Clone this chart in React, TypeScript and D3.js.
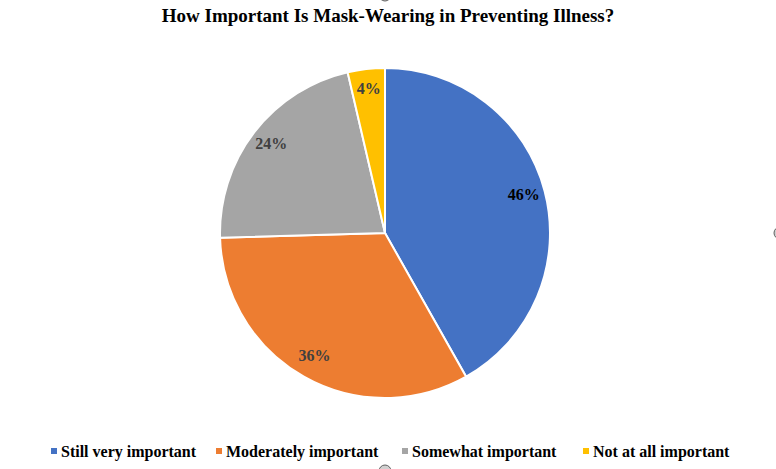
import React, { useEffect, useRef } from "react";
import * as d3 from "d3";

const categories = [
  "Still very important",
  "Moderately important",
  "Somewhat important",
  "Not at all important",
];
const values = [46, 36, 24, 4];
const labels = ["46%", "36%", "24%", "4%"];
const colors = ["#4472C4", "#ED7D31", "#A5A5A5", "#FFC000"];
const labelColors = ["#000000", "#404040", "#404040", "#404040"];

const width = 776;
const height = 469;

const App: React.FC = () => {
  const svgRef = useRef<SVGSVGElement | null>(null);

  useEffect(() => {
    if (!svgRef.current) return;
    const svg = d3.select(svgRef.current);
    svg.selectAll("*").remove();

    const font = "'Liberation Serif', 'Times New Roman', serif";
    const cx = 385;
    const cy = 233;
    const r = 165;

    // title
    svg
      .append("text")
      .attr("x", cx + 3)
      .attr("y", 22)
      .attr("text-anchor", "middle")
      .style("font-family", font)
      .style("font-weight", "bold")
      .style("font-size", "19px")
      .attr("fill", "#000")
      .text("How Important Is Mask-Wearing in Preventing Illness?");

    const pie = d3
      .pie<number>()
      .sort(null)
      .value((d) => d);
    const arcs = pie(values);

    const arc = d3.arc<d3.PieArcDatum<number>>().innerRadius(0).outerRadius(r);
    const labelArc = d3
      .arc<d3.PieArcDatum<number>>()
      .innerRadius(r * 0.87)
      .outerRadius(r * 0.87);

    const g = svg.append("g").attr("transform", `translate(${cx},${cy})`);

    g.selectAll("path")
      .data(arcs)
      .enter()
      .append("path")
      .attr("d", arc)
      .attr("fill", (_, i) => colors[i])
      .attr("stroke", "#fff")
      .attr("stroke-width", 2);

    g.selectAll("text.lbl")
      .data(arcs)
      .enter()
      .append("text")
      .attr("class", "lbl")
      .attr("transform", (d) => {
        const [x, y] = labelArc.centroid(d);
        return `translate(${x},${y})`;
      })
      .attr("text-anchor", "middle")
      .attr("dy", "0.2em")
      .style("font-family", font)
      .style("font-weight", "bold")
      .style("font-size", "16px")
      .attr("fill", (_, i) => labelColors[i])
      .text((_, i) => labels[i]);

    // legend
    const legendX = [61, 226, 412, 593];
    const legend = svg
      .append("g")
      .selectAll("g")
      .data(categories)
      .enter()
      .append("g")
      .attr("transform", (_, i) => `translate(${legendX[i]},451)`);

    legend
      .append("rect")
      .attr("x", -10)
      .attr("y", -3)
      .attr("width", 6)
      .attr("height", 6)
      .attr("fill", (_, i) => colors[i]);

    legend
      .append("text")
      .attr("x", 0)
      .attr("y", 6)
      .style("font-family", font)
      .style("font-weight", "bold")
      .style("font-size", "16px")
      .attr("fill", "#000")
      .text((d) => d);

    // chart frame handles (partly off-canvas)
    const handles: [number, number][] = [
      [cx, -5],
      [width + 4, cy],
      [cx, height + 2],
    ];
    svg
      .selectAll("circle.handle")
      .data(handles)
      .enter()
      .append("circle")
      .attr("class", "handle")
      .attr("cx", (d) => d[0])
      .attr("cy", (d) => d[1])
      .attr("r", 6)
      .attr("fill", "#d0d0d0")
      .attr("stroke", "#606060")
      .attr("stroke-width", 1);
  }, []);

  return (
    <svg
      ref={svgRef}
      width={width}
      height={height}
      style={{ position: "fixed", left: 0, top: 0, background: "#fff" }}
    />
  );
};

export default App;
